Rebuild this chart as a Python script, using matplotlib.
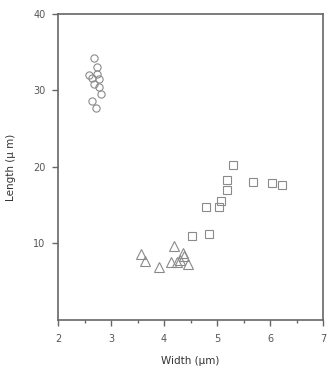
import numpy as np
import matplotlib.pyplot as plt

# circles
circ_w = [2.67, 2.73, 2.59, 2.73, 2.65, 2.78, 2.67, 2.78, 2.82, 2.65, 2.72]
circ_l = [34.2, 33.1, 32.0, 32.2, 31.6, 31.5, 30.9, 30.5, 29.5, 28.6, 27.7]

# triangles
tri_w = [3.57, 3.65, 3.91, 4.19, 4.35, 4.14, 4.24, 4.30, 4.45, 4.38]
tri_l = [8.6, 7.75, 6.9, 9.7, 8.8, 7.6, 7.6, 7.9, 7.3, 8.3]

# squares
sq_w = [5.31, 5.19, 5.19, 5.68, 6.04, 6.23, 5.08, 5.03, 4.79, 4.84, 4.53]
sq_l = [20.3, 18.3, 17.0, 18.0, 17.9, 17.7, 15.6, 14.8, 14.8, 11.2, 11.0]

xticks = [2, 3, 4, 5, 6, 7]
yticks = [10, 20, 30, 40]

grey = '#8a8a8a'
axcol = '#666666'

fig = plt.figure(figsize=(3.32, 3.74), dpi=100)
ax = fig.add_axes([0.1747, 0.1444, 0.7983, 0.8182])

ax.plot(circ_w, circ_l, 'o', ms=5.2, mfc='none', mec=grey, mew=0.8)
ax.plot(tri_w, tri_l, '^', ms=7.5, mfc='none', mec=grey, mew=0.8)
ax.plot(sq_w, sq_l, 's', ms=5.5, mfc='none', mec=grey, mew=0.8)

ax.set_xlim(2, 7)
ax.set_ylim(0, 40)
ax.set_xticks(xticks)
ax.set_xticks(np.arange(2.5, 7, 1), minor=True)
ax.set_yticks(yticks)

for s in ax.spines.values():
    s.set_color(axcol)
    s.set_linewidth(1.2)

ax.tick_params(axis='both', which='major', direction='out', length=4, width=1,
               color=axcol, labelcolor='#555555', labelsize=7)
ax.tick_params(axis='x', which='major', pad=6)
ax.tick_params(axis='y', which='major', pad=5)
ax.tick_params(axis='x', which='minor', direction='out', length=2.5, width=1, color=axcol)

ax.set_xlabel('Width (μm)', fontsize=7.5, color='#333333', labelpad=9)
ax.set_ylabel('Length (μ m)', fontsize=7.5, color='#333333', labelpad=12)

fig.savefig('out.png', dpi=100)
